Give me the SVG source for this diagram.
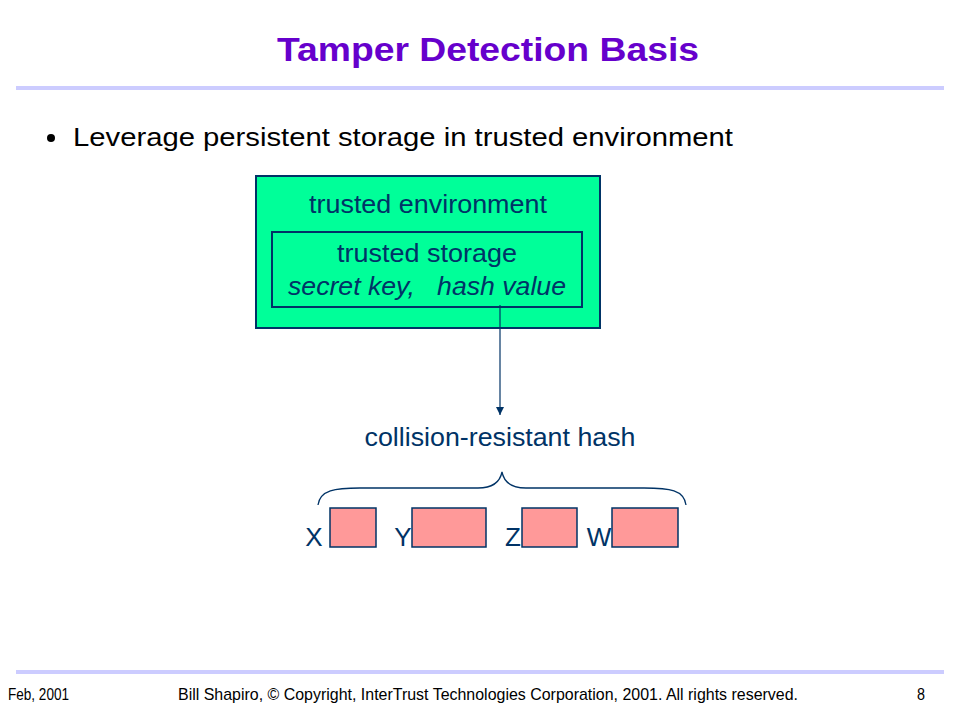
<svg xmlns="http://www.w3.org/2000/svg" width="960" height="720" viewBox="0 0 960 720">
<defs>
<style>
text{font-family:"Liberation Sans",Arial,sans-serif}
.lbl{fill:#003366;font-size:26px;text-anchor:middle}
.box{fill:#FF9999;stroke:#003366;stroke-width:1.5}
.rule{stroke:#CCCCFF;stroke-width:4}
.foot{font-size:17px;fill:#000}
</style>
<marker id="ah" markerWidth="10" markerHeight="10" refX="9" refY="5" orient="auto" markerUnits="userSpaceOnUse">
<path d="M1,1 L9,5 L1,9 Z" fill="#003366"/>
</marker>
</defs>
<rect width="960" height="720" fill="#fff"/>
<text x="488" y="61" text-anchor="middle" font-size="34" font-weight="bold" fill="#6600CC" textLength="422" lengthAdjust="spacingAndGlyphs">Tamper Detection Basis</text>
<line class="rule" x1="16" y1="88" x2="944" y2="88"/>
<circle cx="51" cy="138" r="4" fill="#000"/>
<text x="73" y="146" font-size="26" fill="#000" textLength="660" lengthAdjust="spacingAndGlyphs">Leverage persistent storage in trusted environment</text>
<g id="env">
<rect x="256" y="176" width="344" height="152" fill="#00FF99" stroke="#003366" stroke-width="2"/>
<text class="lbl" x="428" y="213" textLength="238" lengthAdjust="spacingAndGlyphs">trusted environment</text>
</g>
<g id="storage">
<rect x="272" y="232" width="310" height="75" fill="none" stroke="#003366" stroke-width="2"/>
<text class="lbl" x="427" y="262" textLength="180" lengthAdjust="spacingAndGlyphs">trusted storage</text>
<text class="lbl" x="427" y="295" font-style="italic" xml:space="preserve" textLength="278" lengthAdjust="spacingAndGlyphs">secret key,   hash value</text>
</g>
<g id="hash">
<text class="lbl" x="500" y="446" textLength="271" lengthAdjust="spacingAndGlyphs">collision-resistant hash</text>
</g>
<g id="connectors">
<line x1="500" y1="305" x2="500" y2="415" stroke="#003366" stroke-width="1.2" marker-end="url(#ah)"/>
<path d="M318,505 C320,490 335,488 360,488 L478,488 C492,488 500,482 502,472 C504,482 512,488 526,488 L644,488 C670,488 684,490 686,505" fill="none" stroke="#003366" stroke-width="1.3"/>
</g>
<g id="x"><text class="lbl" x="314" y="546">X</text><rect class="box" x="330" y="508" width="46" height="39"/></g>
<g id="y"><text class="lbl" x="403" y="546">Y</text><rect class="box" x="412" y="508" width="74" height="39"/></g>
<g id="z"><text class="lbl" x="513" y="546">Z</text><rect class="box" x="522" y="508" width="55" height="39"/></g>
<g id="w"><text class="lbl" x="599" y="546">W</text><rect class="box" x="612" y="508" width="66" height="39"/></g>
<line class="rule" x1="16" y1="672" x2="944" y2="672"/>
<text class="foot" x="8" y="700" textLength="61" lengthAdjust="spacingAndGlyphs">Feb, 2001</text>
<text class="foot" x="178" y="700" textLength="620" lengthAdjust="spacingAndGlyphs">Bill Shapiro, © Copyright, InterTrust Technologies Corporation, 2001. All rights reserved.</text>
<text class="foot" x="917" y="700" textLength="8" lengthAdjust="spacingAndGlyphs">8</text>
</svg>
